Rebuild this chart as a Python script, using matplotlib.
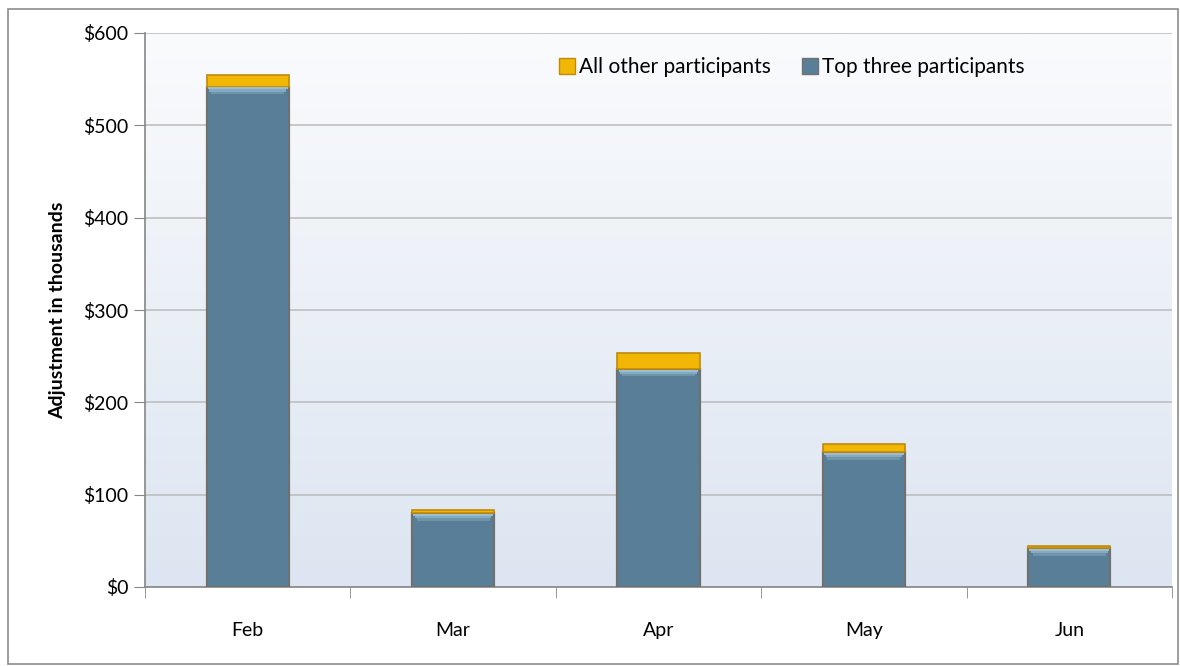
import numpy as np
import matplotlib
matplotlib.use("Agg")
import matplotlib.pyplot as plt
from matplotlib.patches import Rectangle
from matplotlib.colors import LinearSegmentedColormap

months = ["Feb", "Mar", "Apr", "May", "Jun"]
top_three = [542, 80, 236, 146, 42]
all_other = [13, 3, 17, 9, 2]
yticks = [0, 100, 200, 300, 400, 500, 600]

plt.rcParams['font.family'] = ['Lato', 'DejaVu Sans']

fig = plt.figure(figsize=(11.8, 6.66), dpi=100)
ax = fig.add_axes([145/1180, 1 - 587/666, (1172-145)/1180, (587-33)/666])

# outer chart border
fig.patches.append(Rectangle((8/1180, 2/666), 1170/1180, 655/666, transform=fig.transFigure,
                             fill=False, edgecolor="#8c8c8c", linewidth=1.2))

# plot area gradient (white at top to pale blue at bottom)
grad = np.linspace(0, 1, 256).reshape(-1, 1)
bg = LinearSegmentedColormap.from_list("bg", ["#dce5f1", "#fafbfd"])
ax.imshow(grad, cmap=bg, extent=[-0.5, 4.5, 0, 600], origin="lower", aspect="auto", zorder=0)

x = np.arange(len(months))
w = 0.4
ax.bar(x, top_three, width=w, color="#587f97", edgecolor="#707070", linewidth=1.6, zorder=3)
ax.bar(x, all_other, width=w, bottom=top_three, color="#f2b705", edgecolor="#c08a0a",
       linewidth=1.2, zorder=3)
# lighter bevel at top of blue bars
for i in range(3):
    ax.bar(x, [2.5] * len(x), width=w * (0.97 - i * 0.04),
           bottom=np.array(top_three) - 3 - i * 2.5,
           color=["#9cbcd0", "#85a9bf", "#6f95ac"][i], linewidth=0, zorder=4)

ax.set_xlim(-0.5, 4.5)
ax.set_ylim(0, 600)
ax.set_yticks(yticks)
ax.set_yticklabels(["$%d" % v for v in yticks], fontsize=14)
ax.set_xticks(x)
ax.set_xticklabels(months, fontsize=14)
ax.set_xticks(np.arange(-0.5, 5, 1), minor=True)
ax.tick_params(axis="x", which="major", length=0, pad=25)
ax.tick_params(axis="x", which="minor", length=8, color="#868686", direction="out")
ax.tick_params(axis="y", length=8, color="#868686", pad=4)

ax.grid(axis="y", color="#bfbfbf", linewidth=1.2, zorder=1)
ax.set_axisbelow(True)
for s in ["top", "right"]:
    ax.spines[s].set_visible(False)
for s in ["left", "bottom"]:
    ax.spines[s].set_color("#868686")
    ax.spines[s].set_linewidth(1.2)

ax.set_ylabel("Adjustment in thousands", fontsize=14, fontweight="bold", labelpad=12)

h1 = Rectangle((0, 0), 1, 1, facecolor="#f2b705", edgecolor="#c08a0a")
h2 = Rectangle((0, 0), 1, 1, facecolor="#587f97", edgecolor="#707070")
ax.legend([h1, h2], ["All other participants", "Top three participants"], ncol=2,
          loc="upper center", bbox_to_anchor=(0.63, 0.99), frameon=False, fontsize=15,
          handlelength=0.75, handleheight=0.75, handletextpad=0.2, columnspacing=1.5)

fig.savefig("out.png", dpi=100)
